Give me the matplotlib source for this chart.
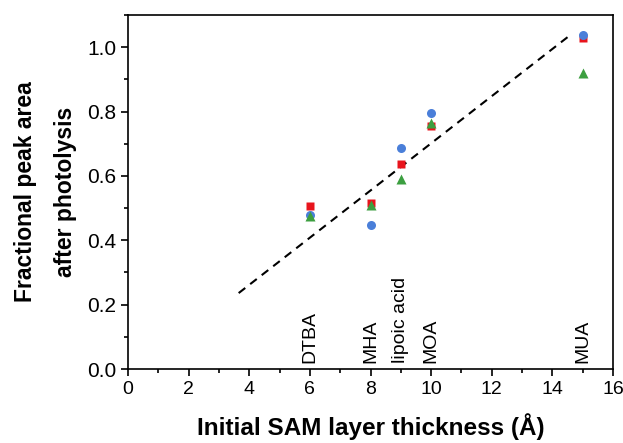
import matplotlib
matplotlib.use("Agg")
import matplotlib.pyplot as plt
from matplotlib.ticker import MultipleLocator, FormatStrFormatter

plt.rcParams['font.family'] = ['Liberation Sans', 'DejaVu Sans']

# Data
thickness = [6, 8, 9, 10, 15]
compounds = ["DTBA", "MHA", "lipoic acid", "MOA", "MUA"]
series_square = [0.506, 0.517, 0.636, 0.755, 1.030]
series_circle = [0.480, 0.448, 0.687, 0.796, 1.039]
series_triangle = [0.475, 0.511, 0.589, 0.765, 0.921]
fit_x = [3.65, 14.55]
fit_y = [0.236, 1.035]

fig = plt.figure(figsize=(6.23, 4.43), dpi=100)
ax = fig.add_axes([0.2055, 0.167, 0.7785, 0.799])

ax.plot(fit_x, fit_y, color='black', lw=1.5, dashes=(4, 3), zorder=2)
ax.plot(thickness, series_square, 's', color='#E8141C', ms=6, mec='none', zorder=3)
ax.plot(thickness, series_circle, 'o', color='#4A7FD9', ms=6.5, mec='none', zorder=4)
ax.plot(thickness, series_triangle, '^', color='#3C9F40', ms=7, mec='none', zorder=5)

for x, name in zip(thickness, compounds):
    ax.text(x, 0.02, name, rotation=90, ha='center', va='bottom', fontsize=14)

ax.set_xlim(0, 16)
ax.set_ylim(0, 1.1)
ax.xaxis.set_major_locator(MultipleLocator(2))
ax.xaxis.set_minor_locator(MultipleLocator(1))
ax.yaxis.set_major_locator(MultipleLocator(0.2))
ax.yaxis.set_minor_locator(MultipleLocator(0.1))
ax.yaxis.set_major_formatter(FormatStrFormatter('%.1f'))
ax.tick_params(axis='both', which='major', direction='out', length=5, width=1.2,
               top=False, right=False)
ax.tick_params(axis='x', which='major', labelsize=14)
ax.tick_params(axis='y', which='major', labelsize=15)
ax.tick_params(axis='both', which='minor', direction='out', length=3, width=1.2,
               top=False, right=False)
for s in ax.spines.values():
    s.set_linewidth(1.2)

ax.set_xlabel("Initial SAM layer thickness (Å)", fontsize=17.5, fontweight='bold', labelpad=11)
ax.set_ylabel("Fractional peak area\nafter photolysis", fontsize=16.5, fontweight='bold',
              labelpad=7, linespacing=1.95)

fig.savefig("out.png", dpi=100)
